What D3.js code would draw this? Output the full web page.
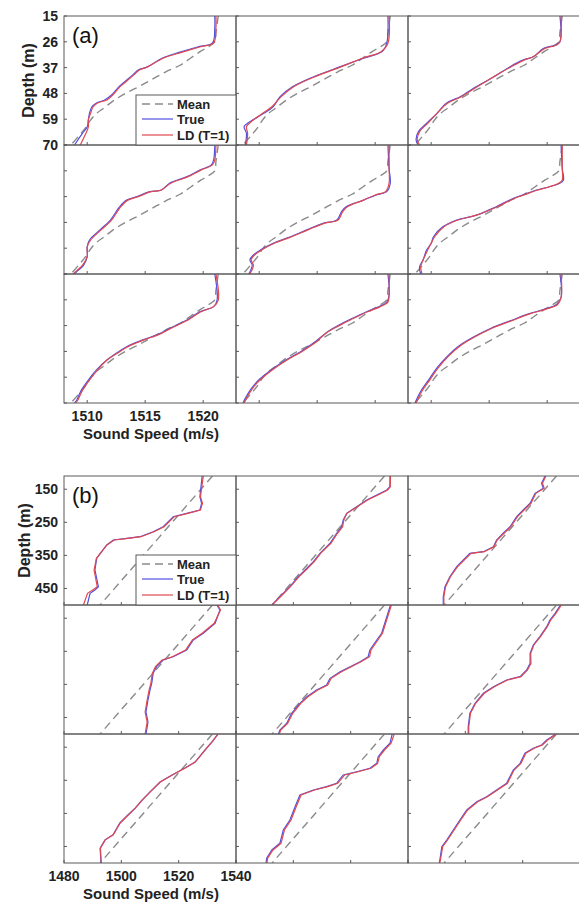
<!DOCTYPE html>
<html>
<head>
<meta charset="utf-8">
<script src="https://cdn.jsdelivr.net/npm/d3@7"></script>
<style>
  body { margin: 0; background: #fff; }
  svg { display: block; font-family: "Liberation Sans", Arial, sans-serif; }
</style>
</head>
<body>
<div id="chart"></div>
<script>
// ---------- panel (a) : shallow water, depth 15-70 m ----------
// every profile is a list of [depth, sound speed]
var depthTicksA = [15, 26, 37, 48, 59, 70];
var speedTicksA = [1510, 1515, 1520];

var meanA = [[15,1521.3],[22,1521.1],[26,1521.0],[28,1520.5],[30,1519.8],[33,1518.9],[36,1518.0],[39,1516.7],
  [42,1515.6],[45,1514.5],[48,1513.3],[51,1512.3],[54,1511.5],[57,1510.7],[60,1510.2],[63,1509.8],[66,1509.3],[70,1508.6]];

var trueA = [
  [[15,1521.0],[20,1521.0],[26.5,1520.8],[28.2,1519.5],[30.4,1518.0],[32.9,1516.5],[36.7,1515.2],[38,1514.4],[40.2,1513.9],[43.6,1513.1],[45.3,1512.7],[48.7,1512.1],[50.8,1511.5],[52.1,1510.8],[53.8,1510.4],[56.4,1510.2],[59.3,1510.1],[62.3,1510.0],[64.9,1509.6],[70,1508.9]],
  [[15,1521.1],[26.6,1521.0],[30.2,1520.6],[33,1519.0],[36.6,1517.0],[40.9,1514.7],[45.1,1512.9],[49.4,1511.8],[53.7,1511.2],[56.5,1510.4],[60.1,1509.2],[62.2,1508.7],[65,1508.9],[70,1508.8]],
  [[15,1521.1],[26,1521.1],[27.4,1520.7],[28.8,1519.7],[32.4,1518.8],[33.8,1517.9],[36.6,1516.8],[40.9,1515.4],[45.1,1513.9],[49.4,1512.5],[52.2,1511.3],[56.5,1510.5],[60.8,1509.6],[64.3,1508.9],[67.9,1508.7],[70,1508.9]],
  [[15,1521.0],[21.4,1520.9],[23.5,1520.7],[25.7,1519.7],[28.5,1518.6],[31.3,1517.1],[34.2,1516.4],[34.9,1515.4],[37,1514.3],[38.5,1513.4],[41.3,1512.8],[47,1512.0],[51.2,1511.1],[55.5,1510.2],[58.4,1510.0],[62.6,1510.0],[66.2,1509.7],[69,1509.1],[70,1508.9]],
  [[15,1521.1],[25,1521.2],[31.3,1521.3],[34.9,1521.0],[36.3,1520.1],[38.5,1519.0],[41.3,1517.5],[43.4,1517.1],[47,1516.7],[48.4,1515.5],[51.2,1514.1],[54.1,1512.7],[56.9,1511.2],[59.8,1510.1],[61.9,1509.5],[64,1509.2],[66.2,1509.4],[70,1509.1]],
  [[15,1521.2],[25,1521.3],[29.9,1521.4],[31.3,1521.1],[32.8,1520.2],[34.2,1519.1],[36.3,1517.9],[37.7,1517.1],[41.3,1515.6],[44.9,1513.9],[47,1512.2],[49.9,1511.0],[54.1,1510.2],[56.9,1510.0],[59.8,1509.6],[64,1509.3],[66.9,1509.0],[70,1509.1]],
  [[15,1521.0],[26.1,1521.2],[28.9,1520.9],[31.1,1519.7],[34.6,1518.6],[37.5,1517.4],[40.3,1516.3],[43.1,1514.8],[46,1513.4],[48.8,1512.5],[51.7,1511.7],[55.9,1510.8],[60.2,1510.1],[64.5,1509.5],[68.7,1509.1],[70,1508.9]],
  [[15,1521.1],[24,1521.2],[27,1521.0],[29,1520.3],[31,1519.3],[34,1518.0],[37,1516.8],[40,1515.8],[44,1514.8],[48,1513.6],[52,1512.2],[56,1511.0],[60,1510.0],[64,1509.3],[68,1508.8],[70,1508.6]],
  [[15,1521.1],[25,1521.2],[28,1520.8],[30,1519.8],[32,1518.4],[35,1516.8],[38,1515.2],[42,1513.6],[46,1512.3],[50,1511.4],[55,1510.5],[60,1509.8],[65,1509.1],[70,1508.6]]
];

var ldA = [
  [[15,1521.1],[20,1521.1],[26.5,1520.9],[28.2,1519.7],[30.4,1518.2],[32.9,1516.6],[36.7,1515.2],[38,1514.5],[40.2,1514.0],[43.6,1513.2],[45.3,1512.8],[48.7,1512.2],[50.8,1511.7],[52.1,1510.9],[53.8,1510.5],[56.4,1510.3],[59.3,1510.1],[62.3,1510.1],[64.9,1509.9],[70,1509.4]],
  [[15,1521.2],[26.6,1521.1],[30.2,1520.5],[33,1518.9],[36.6,1517.1],[40.9,1514.8],[45.1,1513.0],[49.4,1511.9],[53.7,1511.1],[56.5,1510.3],[60.1,1509.3],[62.2,1508.9],[65,1509.0],[70,1508.9]],
  [[15,1521.2],[26,1521.1],[27.4,1520.8],[28.8,1519.8],[32.4,1518.8],[33.8,1518.0],[36.6,1516.9],[40.9,1515.4],[45.1,1514.0],[49.4,1512.6],[52.2,1511.4],[56.5,1510.5],[60.8,1509.7],[64.3,1509.0],[67.9,1508.8],[70,1509.0]],
  [[15,1521.1],[21.4,1521.0],[23.5,1520.8],[25.7,1519.8],[28.5,1518.7],[31.3,1517.2],[34.2,1516.4],[34.9,1515.5],[37,1514.4],[38.5,1513.5],[41.3,1512.9],[47,1512.1],[51.2,1511.2],[55.5,1510.3],[58.4,1510.0],[62.6,1510.0],[66.2,1509.6],[69,1509.0],[70,1508.8]],
  [[15,1521.2],[25,1521.2],[31.3,1521.2],[34.9,1520.9],[36.3,1520.0],[38.5,1519.0],[41.3,1517.6],[43.4,1517.2],[47,1516.8],[48.4,1515.6],[51.2,1514.2],[54.1,1512.8],[56.9,1511.3],[59.8,1510.2],[61.9,1509.6],[64,1509.3],[66.2,1509.5],[70,1509.2]],
  [[15,1521.3],[25,1521.3],[29.9,1521.3],[31.3,1521.0],[32.8,1520.2],[34.2,1519.2],[36.3,1518.0],[37.7,1517.2],[41.3,1515.7],[44.9,1513.9],[47,1512.3],[49.9,1511.1],[54.1,1510.3],[56.9,1510.0],[59.8,1509.7],[64,1509.3],[66.9,1509.1],[70,1509.2]],
  [[15,1521.1],[26.1,1521.3],[28.9,1520.9],[31.1,1519.8],[34.6,1518.7],[37.5,1517.5],[40.3,1516.4],[43.1,1514.9],[46,1513.5],[48.8,1512.6],[51.7,1511.7],[55.9,1510.9],[60.2,1510.2],[64.5,1509.6],[68.7,1509.2],[70,1509.0]],
  [[15,1521.2],[24,1521.2],[27,1521.1],[29,1520.4],[31,1519.4],[34,1518.1],[37,1516.9],[40,1515.8],[44,1514.9],[48,1513.7],[52,1512.3],[56,1511.1],[60,1510.1],[64,1509.4],[68,1508.9],[70,1508.7]],
  [[15,1521.2],[25,1521.2],[28,1520.9],[30,1519.9],[32,1518.5],[35,1516.9],[38,1515.3],[42,1513.7],[46,1512.4],[50,1511.5],[55,1510.6],[60,1509.9],[65,1509.2],[70,1508.7]]
];

// ---------- panel (b) : deep water, depth 110-500 m ----------
var depthTicksB = [150, 250, 350, 450];
var speedTicksB = [1480, 1500, 1520, 1540];

var meanB = [[110,1531.8],[300,1512.7],[500,1492.6]];

var trueB = [
  [[110,1528.2],[172.6,1527.4],[192.5,1528.0],[212.8,1527.4],[222.8,1522.8],[233,1518.1],[263.3,1514.6],[278.4,1511.1],[293.5,1506.5],[298.3,1501.9],[303.5,1497.2],[318.6,1494.9],[358.8,1491.4],[394.2,1490.8],[444.6,1492.0],[454.6,1490.8],[464.6,1489.1],[500,1488.1]],
  [[110,1533.7],[142.3,1533.7],[152.3,1532.6],[167.4,1529.1],[182.6,1525.6],[202.8,1522.1],[222.8,1518.6],[243,1517.4],[263.3,1516.9],[283.2,1515.1],[313.4,1512.8],[343.7,1509.3],[369.1,1507.0],[394.2,1504.1],[414.4,1501.7],[444.6,1498.8],[469.7,1495.9],[500,1492.5]],
  [[110,1527.8],[132,1526.6],[147.2,1527.2],[162.3,1524.3],[192.5,1522.6],[212.8,1520.2],[233,1517.9],[263.3,1515.6],[283.2,1513.2],[303.5,1510.9],[323.7,1509.8],[338.8,1506.3],[343.7,1501.6],[363.9,1499.3],[384.2,1497.0],[414.4,1494.6],[444.6,1492.9],[474.9,1492.3],[500,1492.3]],
  [[110,1533.3],[125.1,1534.4],[165.3,1532.7],[195.5,1528.6],[215.8,1525.1],[246,1522.8],[266.3,1518.1],[276.3,1514.6],[296.5,1512.3],[316.5,1511.1],[346.7,1510.6],[367,1510.0],[397.2,1509.3],[433.5,1508.6],[463.7,1509.3],[500,1508.6]],
  [[110,1533.9],[145.4,1532.6],[195.5,1530.8],[215.8,1529.1],[246,1526.7],[266.3,1526.1],[281.4,1523.3],[296.5,1519.8],[311.6,1516.3],[331.6,1512.8],[351.8,1511.6],[367,1508.1],[387.2,1504.7],[407.2,1502.3],[437.4,1499.4],[467.6,1497.7],[487.9,1495.3],[500,1494.8]],
  [[110,1533.2],[135.1,1531.3],[155.3,1529.5],[175.6,1528.4],[205.8,1526.0],[230.9,1523.7],[256,1522.6],[286.2,1522.6],[306.5,1521.4],[326.7,1519.1],[336.7,1514.4],[357,1509.8],[376.9,1506.3],[407.2,1503.4],[437.4,1501.6],[477.9,1501.0],[500,1501.0]],
  [[110,1533.7],[134,1531.6],[158,1529.2],[195,1525.7],[213,1522.2],[234,1517.7],[255,1513.5],[285,1510.0],[310,1507.2],[334,1504.8],[355,1502.3],[379,1499.5],[415,1497.1],[430,1494.3],[455,1492.6],[500,1492.9]],
  [[110,1534.5],[138.1,1533.7],[158.4,1531.4],[178.6,1529.6],[198.6,1529.1],[213.7,1526.7],[224,1522.1],[233.9,1517.4],[259,1515.1],[269.3,1511.6],[279.3,1507.0],[294.4,1502.3],[329.8,1500.6],[370,1498.8],[400.2,1496.5],[440.5,1495.3],[460.7,1492.5],[485.8,1490.7],[500,1490.5]],
  [[110,1531.6],[128.1,1528.4],[143.2,1526.6],[153.2,1523.7],[168.3,1520.8],[198.6,1519.1],[218.8,1516.7],[259,1514.4],[279.3,1510.9],[299.5,1507.4],[314.6,1504.0],[339.7,1500.5],[370,1498.1],[400.2,1495.8],[430.4,1493.5],[450.7,1491.8],[485.8,1491.2],[500,1490.9]]
];

var ldB = [
  [[110,1528.6],[172.6,1527.6],[192.5,1528.3],[212.8,1527.6],[222.8,1523.2],[233,1518.5],[263.3,1514.9],[278.4,1511.4],[293.5,1506.9],[298.3,1502.3],[303.5,1497.5],[318.6,1495.0],[358.8,1491.3],[394.2,1490.5],[444.6,1491.6],[454.6,1490.0],[464.6,1488.2],[500,1486.8]],
  [[110,1533.9],[142.3,1533.8],[152.3,1532.9],[167.4,1529.5],[182.6,1525.9],[202.8,1522.3],[222.8,1518.7],[243,1517.6],[263.3,1517.2],[283.2,1515.4],[313.4,1513.1],[343.7,1509.5],[369.1,1507.3],[394.2,1504.4],[414.4,1502.0],[444.6,1499.0],[469.7,1496.1],[500,1492.6]],
  [[110,1528.1],[132,1526.9],[147.2,1527.5],[162.3,1524.6],[192.5,1522.9],[212.8,1520.5],[233,1518.2],[263.3,1515.9],[283.2,1513.5],[303.5,1511.1],[323.7,1510.0],[338.8,1506.6],[343.7,1502.0],[363.9,1499.6],[384.2,1497.3],[414.4,1494.8],[444.6,1493.1],[474.9,1492.5],[500,1492.5]],
  [[110,1533.6],[125.1,1534.6],[165.3,1532.4],[195.5,1528.2],[215.8,1524.8],[246,1522.4],[266.3,1517.8],[276.3,1514.2],[296.5,1511.9],[316.5,1510.8],[346.7,1510.3],[367,1509.7],[397.2,1509.0],[433.5,1508.3],[463.7,1509.0],[500,1508.3]],
  [[110,1534.2],[145.4,1532.9],[195.5,1531.1],[215.8,1529.5],[246,1527.1],[266.3,1526.6],[281.4,1523.6],[296.5,1520.2],[311.6,1516.8],[331.6,1513.2],[351.8,1512.0],[367,1508.5],[387.2,1505.1],[407.2,1502.6],[437.4,1499.8],[467.6,1498.0],[487.9,1495.6],[500,1495.1]],
  [[110,1533.5],[135.1,1531.6],[155.3,1529.8],[175.6,1528.6],[205.8,1526.2],[230.9,1523.9],[256,1522.8],[286.2,1522.9],[306.5,1521.7],[326.7,1519.4],[336.7,1514.7],[357,1510.1],[376.9,1506.6],[407.2,1503.6],[437.4,1501.8],[477.9,1501.2],[500,1501.2]],
  [[110,1533.8],[134,1531.7],[158,1529.3],[195,1525.8],[213,1522.3],[234,1517.8],[255,1513.6],[285,1510.1],[310,1507.3],[334,1504.9],[355,1502.4],[379,1499.6],[415,1497.2],[430,1494.4],[455,1492.7],[500,1493.0]],
  [[110,1535.2],[138.1,1534.1],[158.4,1531.8],[178.6,1530.0],[198.6,1529.4],[213.7,1527.1],[224,1522.6],[233.9,1517.9],[259,1515.5],[269.3,1512.0],[279.3,1507.4],[294.4,1502.7],[329.8,1501.0],[370,1499.2],[400.2,1496.9],[440.5,1495.7],[460.7,1492.9],[485.8,1491.0],[500,1490.8]],
  [[110,1531.8],[128.1,1528.7],[143.2,1526.9],[153.2,1524.0],[168.3,1521.1],[198.6,1519.4],[218.8,1517.0],[259,1514.7],[279.3,1511.2],[299.5,1507.7],[314.6,1504.3],[339.7,1500.8],[370,1498.4],[400.2,1496.1],[430.4,1493.8],[450.7,1492.1],[485.8,1491.4],[500,1491.1]]
];

var legendNames = ["Mean", "True", "LD (T=1)"];

// ---------- layout ----------
var svgWidth = 579;
var svgHeight = 902;
var cellW = 172;
var cellH = 129;
var gridLeft = 64;

var colorTrue = "#5050e0";
var colorLD = "#e04850";
var colorMean = "#8a8a8a";
var frameColor = "#5a5a5a";

var svg = d3.select("#chart")
  .append("svg")
  .attr("width", svgWidth)
  .attr("height", svgHeight);

var panels = [
  { id: "a", top: 16, xDomain: [1508, 1522.83], yDomain: [15, 70],
    xTicks: speedTicksA, yTicks: depthTicksA, mean: meanA, truth: trueA, ld: ldA,
    curve: d3.curveCatmullRom, label: "(a)", depthLabelX: 34 },
  { id: "b", top: 476, xDomain: [1480, 1540], yDomain: [110, 500],
    xTicks: speedTicksB, yTicks: depthTicksB, mean: meanB, truth: trueB, ld: ldB,
    curve: d3.curveLinear, label: "(b)", depthLabelX: 30 }
];

panels.forEach(function(p) {
  var xScale = d3.scaleLinear().domain(p.xDomain).range([0, cellW]);
  var yScale = d3.scaleLinear().domain(p.yDomain).range([0, cellH]);

  var line = d3.line()
    .x(function(d) { return xScale(d[1]); })
    .y(function(d) { return yScale(d[0]); })
    .curve(p.curve);

  var panelGroup = svg.append("g")
    .attr("transform", `translate(${gridLeft}, ${p.top})`);

  // one clip for all cells of a panel
  svg.append("clipPath")
    .attr("id", "clip-" + p.id)
    .append("rect")
    .attr("width", cellW)
    .attr("height", cellH);

  for (var i = 0; i < 9; i++) {
    var row = Math.floor(i / 3);
    var col = i % 3;
    var cell = panelGroup.append("g")
      .attr("transform", `translate(${col * cellW}, ${row * cellH})`);

    var plot = cell.append("g").attr("clip-path", `url(#clip-${p.id})`);

    plot.append("path")
      .datum(p.mean)
      .attr("d", line)
      .attr("fill", "none")
      .attr("stroke", colorMean)
      .attr("stroke-width", 1.4)
      .attr("stroke-dasharray", "8,5");

    plot.append("path")
      .datum(p.truth[i])
      .attr("d", line)
      .attr("fill", "none")
      .attr("stroke", colorTrue)
      .attr("stroke-width", 1.2);

    plot.append("path")
      .datum(p.ld[i])
      .attr("d", line)
      .attr("fill", "none")
      .attr("stroke", colorLD)
      .attr("stroke-width", 1.2);

    // frame of the cell
    cell.append("rect")
      .attr("width", cellW)
      .attr("height", cellH)
      .attr("fill", "none")
      .attr("stroke", frameColor)
      .attr("stroke-width", 1);

    // inward ticks, bottom and left
    cell.selectAll(".xt")
      .data(p.xTicks)
      .enter()
      .append("line")
      .attr("x1", function(d) { return xScale(d); })
      .attr("x2", function(d) { return xScale(d); })
      .attr("y1", cellH)
      .attr("y2", cellH - 3)
      .attr("stroke", frameColor);

    cell.selectAll(".yt")
      .data(p.yTicks)
      .enter()
      .append("line")
      .attr("x1", 0)
      .attr("x2", 3)
      .attr("y1", function(d) { return yScale(d); })
      .attr("y2", function(d) { return yScale(d); })
      .attr("stroke", frameColor);
  }

  // depth tick labels on the top-left cell only
  panelGroup.selectAll(".ylab")
    .data(p.yTicks)
    .enter()
    .append("text")
    .attr("x", -6)
    .attr("y", function(d) { return yScale(d) + 5; })
    .attr("text-anchor", "end")
    .style("font-size", "14px")
    .style("font-weight", "bold")
    .attr("fill", "#222")
    .text(function(d) { return d; });

  // speed tick labels under the bottom-left cell only
  panelGroup.selectAll(".xlab")
    .data(p.xTicks)
    .enter()
    .append("text")
    .attr("x", function(d) { return xScale(d); })
    .attr("y", 3 * cellH + 18)
    .attr("text-anchor", "middle")
    .style("font-size", "14px")
    .style("font-weight", "bold")
    .attr("fill", "#222")
    .text(function(d) { return d; });

  // axis titles
  panelGroup.append("text")
    .attr("transform", `translate(${p.depthLabelX - gridLeft}, ${cellH / 2}) rotate(-90)`)
    .attr("text-anchor", "middle")
    .style("font-size", "16px")
    .style("font-weight", "bold")
    .attr("fill", "#222")
    .text("Depth (m)");

  panelGroup.append("text")
    .attr("x", 87)
    .attr("y", 3 * cellH + 36)
    .attr("text-anchor", "middle")
    .style("font-size", "15px")
    .style("font-weight", "bold")
    .attr("fill", "#222")
    .text("Sound Speed (m/s)");

  // panel letter
  panelGroup.append("text")
    .attr("x", 8)
    .attr("y", 27)
    .style("font-size", "22px")
    .attr("fill", "#111")
    .text(p.label);

  // legend in the lower right corner of the first cell
  var legend = panelGroup.append("g")
    .attr("transform", `translate(72, ${cellH - 50})`);

  legend.append("rect")
    .attr("width", 100)
    .attr("height", 50)
    .attr("fill", "#fff")
    .attr("stroke", frameColor);

  var legendColors = [colorMean, colorTrue, colorLD];
  var legendRows = [9, 24, 40];
  legendNames.forEach(function(name, k) {
    var ly = legendRows[k];
    legend.append("line")
      .attr("x1", 6)
      .attr("x2", 37)
      .attr("y1", ly)
      .attr("y2", ly)
      .attr("stroke", legendColors[k])
      .attr("stroke-width", k === 0 ? 1.4 : 1.2)
      .attr("stroke-dasharray", k === 0 ? "8,5" : null);
    legend.append("text")
      .attr("x", 41)
      .attr("y", ly + 5)
      .style("font-size", "13px")
      .style("font-weight", "bold")
      .attr("fill", "#222")
      .text(name);
  });
});
</script>
</body>
</html>
